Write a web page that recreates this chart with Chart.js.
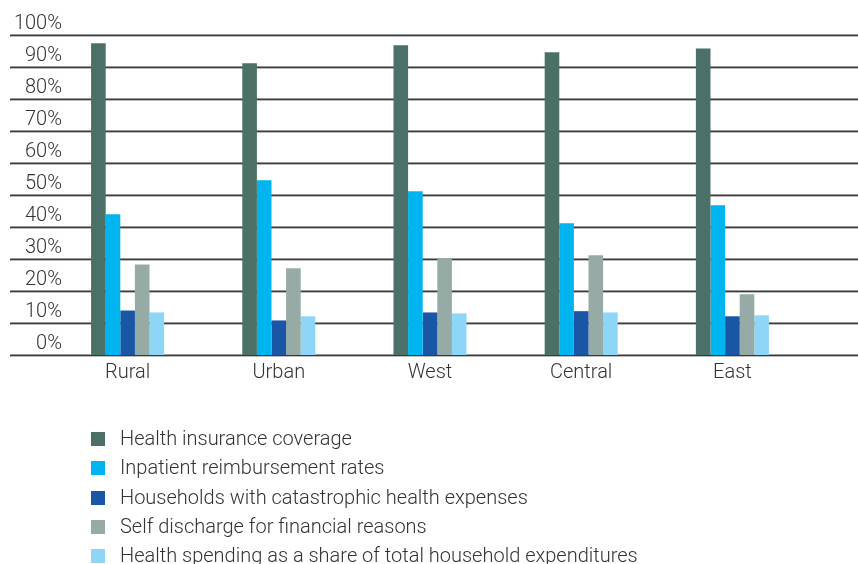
<!DOCTYPE html>
<html>
<head>
<meta charset="utf-8">
<script src="https://cdn.jsdelivr.net/npm/chart.js@4"></script>
<style>
  body { margin: 0; background: #fff; }
  #wrap { position: relative; width: 858px; height: 564px; }
  #legend { position: absolute; left: 91px; top: 424px; font-family: Roboto, "Liberation Sans", sans-serif; font-weight: 300; font-size: 20px; color: #333; }
  .item { height: 29.3px; line-height: 29.3px; white-space: nowrap; }
  .box { display: inline-block; width: 14px; height: 14px; vertical-align: -1px; margin-right: 15px; }
</style>
</head>
<body>
<div id="wrap">
  <canvas id="chart" width="858" height="564"></canvas>
  <div id="legend"></div>
</div>
<script>
const regions = ["Rural", "Urban", "West", "Central", "East"];
const seriesNames = [
  "Health insurance coverage",
  "Inpatient reimbursement rates",
  "Households with catastrophic health expenses",
  "Self discharge for financial reasons",
  "Health spending as a share of total household expenditures",
];
const coverage = [97.4, 91.2, 96.8, 94.6, 95.8];
const reimbursement = [44.0, 54.6, 51.2, 41.2, 46.8];
const catastrophic = [13.9, 10.8, 13.3, 13.7, 12.1];
const selfDischarge = [28.3, 27.1, 30.2, 31.2, 19.0];
const spendingShare = [13.3, 12.1, 13.0, 13.3, 12.4];
const yTicks = [0, 10, 20, 30, 40, 50, 60, 70, 80, 90, 100];

const colors = ["#4a7068", "#00b5ef", "#1a56a6", "#96aba6", "#8ed6f8"];
const values = [coverage, reimbursement, catastrophic, selfDischarge, spendingShare];
const fontFamily = "Roboto, 'Liberation Sans', sans-serif";

Chart.defaults.font.family = fontFamily;
Chart.defaults.font.weight = "300";
Chart.defaults.color = "#333";

// long horizontal rules under the y labels out to the right edge,
// with the percent labels sitting just above each rule
const fullGrid = {
  id: "fullGrid",
  beforeDatasetsDraw(chart) {
    const ctx = chart.ctx;
    const y = chart.scales.y;
    ctx.save();
    ctx.font = "300 20px " + fontFamily;
    ctx.textAlign = "right";
    ctx.textBaseline = "alphabetic";
    yTicks.forEach((v) => {
      const py = Math.round(y.getPixelForValue(v));
      ctx.fillStyle = "#bbb";
      ctx.fillRect(10, py + 1, 848, 1);
      ctx.fillStyle = "#3a3a3a";
      ctx.fillRect(10, py - 0.5, 848, 1.5);
      ctx.fillStyle = "#333";
      ctx.fillText(v + "%", 62, py - 6);
    });
    ctx.restore();
  },
};

const chart = new Chart(document.getElementById("chart"), {
  type: "bar",
  data: {
    labels: regions,
    datasets: seriesNames.map((name, i) => ({
      label: name,
      data: values[i],
      backgroundColor: colors[i],
      barPercentage: 1,
      categoryPercentage: 0.483,
    })),
  },
  options: {
    responsive: false,
    animation: false,
    layout: { padding: { top: 35, right: 50, bottom: 179, left: 0 } },
    plugins: { legend: { display: false }, tooltip: { enabled: false } },
    scales: {
      x: {
        grid: { display: false },
        border: { display: false },
        ticks: { font: { size: 20 }, padding: -2 },
        afterFit: (s) => { s.height = 30; },
      },
      y: {
        min: 0,
        max: 100,
        grid: { display: false, drawTicks: false },
        border: { display: false },
        ticks: { stepSize: 10, display: false },
        afterFit: (s) => { s.width = 52; },
      },
    },
  },
  plugins: [fullGrid],
});

const legend = document.getElementById("legend");
chart.data.datasets.forEach((ds) => {
  const row = document.createElement("div");
  row.className = "item";
  const box = document.createElement("span");
  box.className = "box";
  box.style.background = ds.backgroundColor;
  row.appendChild(box);
  row.appendChild(document.createTextNode(ds.label));
  legend.appendChild(row);
});
</script>
</body>
</html>
